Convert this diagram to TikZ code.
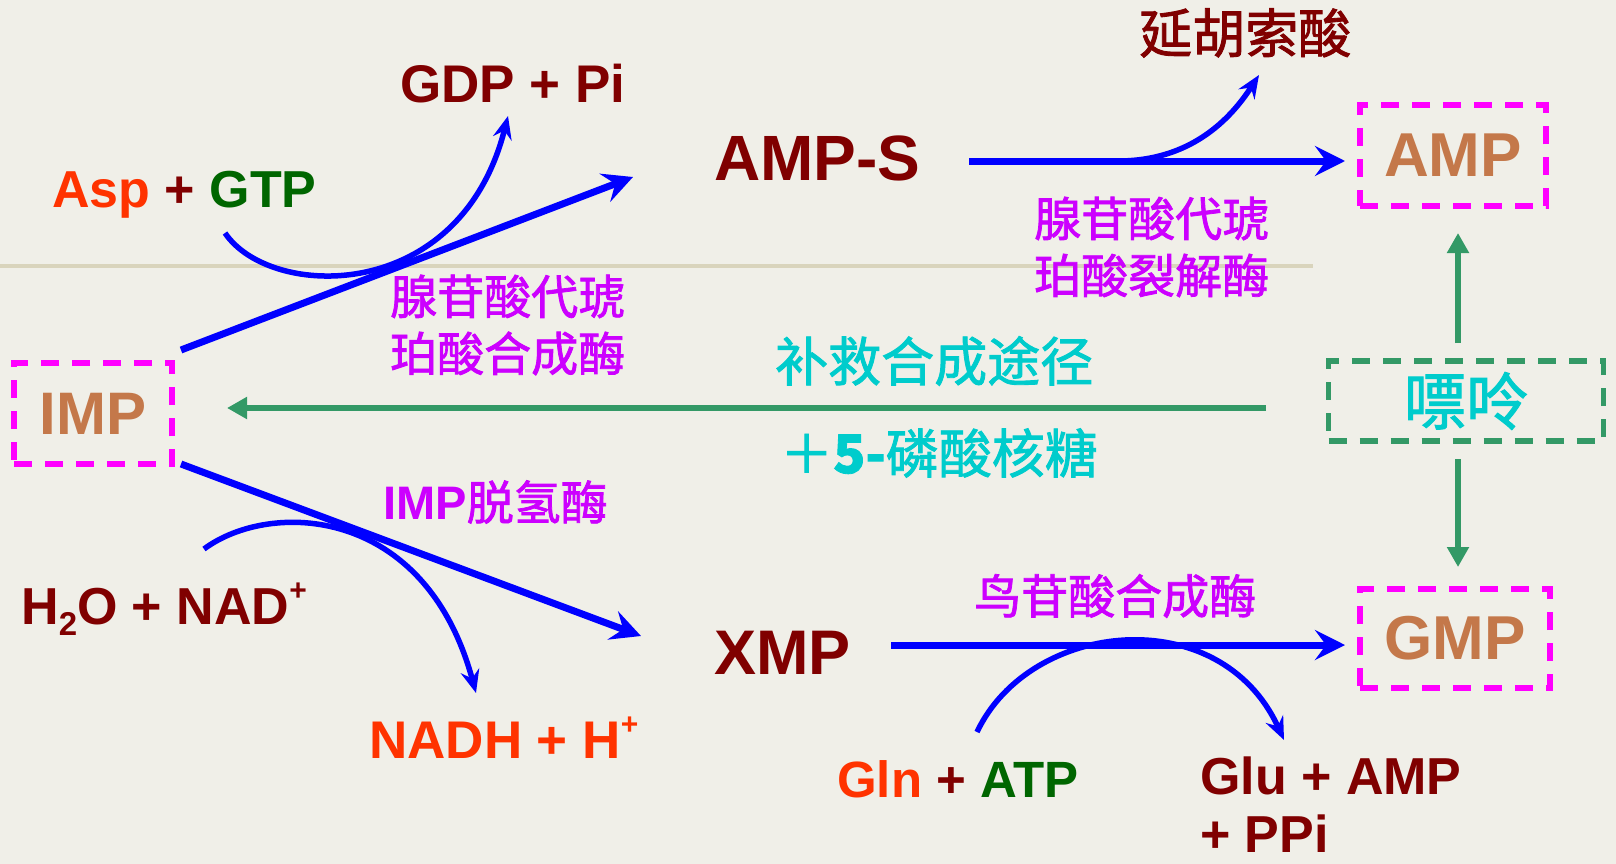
\documentclass[tikz,border=0pt]{standalone}
\usepackage{fontspec}
\setmainfont{Liberation Sans}
\newfontfamily\cjk[FakeBold=1.6]{Noto Sans CJK SC}
\usetikzlibrary{arrows.meta}
\definecolor{dred}{HTML}{800000}
\definecolor{ored}{HTML}{FF3300}
\definecolor{dgreen}{HTML}{006600}
\definecolor{arrblue}{HTML}{0000FF}
\definecolor{enz}{HTML}{CC00FF}
\definecolor{boxmag}{HTML}{FF00FF}
\definecolor{brownc}{HTML}{C4784A}
\definecolor{cyanc}{HTML}{00CCCC}
\definecolor{sgreen}{HTML}{339966}
\definecolor{bgc}{HTML}{F0EFE8}
\definecolor{tanline}{HTML}{D9D4BC}
\begin{document}
\begin{tikzpicture}[x=1pt,y=-1pt,
  lat/.style={inner sep=0pt, anchor=base west, font=\bfseries\fontsize{#1}{#1}\selectfont},
  cj/.style={inner sep=0pt, anchor=west, align=left, font=\cjk\fontsize{#1}{57}\selectfont},
  dbox/.style={draw=#1, line width=5.5pt, dash pattern=on 18pt off 13pt, inner sep=0pt},
  big/.style={font=\bfseries\fontsize{#1}{#1}\selectfont, text=brownc},
  barrow/.style={draw=arrblue, line width=7pt, -{Stealth[length=30pt,width=30pt,inset=11pt]}},
  carrow/.style={draw=arrblue, line width=5.5pt, -{Stealth[length=23pt,width=19pt,inset=8pt]}},
  garrow/.style={draw=sgreen, line width=6.5pt, -{Triangle[length=20pt,width=21pt]}}]
\useasboundingbox (0,0) rectangle (1616,864);
\fill[bgc] (0,0) rectangle (1616,864);
\draw[tanline, line width=4pt] (0,266) -- (1313,266);

% nodes
\node[lat=53, text=dred] (gdp) at (400,103) {GDP + Pi};
\node[lat=52] (asp) at (52,207) {\textcolor{ored}{Asp} \textcolor{dred}{+} \textcolor{dgreen}{GTP}};
\node[lat=64, text=dred] (amps) at (714,180) {AMP-S};
\node[cj=53, text=dred] (fum) at (1139,33) {延胡索酸};
\node[dbox=boxmag, minimum width=186pt, minimum height=101pt, big=62] (amp) at (1453,155.5) {AMP};
\node[cj=47, text=enz] (adsl) at (1034,247) {腺苷酸代琥\\珀酸裂解酶};
\node[cj=47, text=enz] (adss) at (390,325) {腺苷酸代琥\\珀酸合成酶};
\node[dbox=boxmag, minimum width=158pt, minimum height=101pt, big=60] (imp) at (93,413.5) {IMP};
\node[cj=53, text=cyanc] (salv) at (775,361) {补救合成途径};
\node[cj=53, text=cyanc] (prpp) at (780,453) {＋{\bfseries\fontsize{53}{53}\selectfont 5-}磷酸核糖};
\node[dbox=sgreen, minimum width=275pt, minimum height=80pt, font=\cjk\fontsize{62}{62}\selectfont, text=cyanc] (pur) at (1466,401) {嘌呤};
\node[dbox=boxmag, minimum width=190pt, minimum height=99pt, big=62] (gmp) at (1455,638.5) {GMP};
\node[cj=47, text=enz] (guas) at (974,596) {鸟苷酸合成酶};
\node[lat=63, text=dred] (xmp) at (714,674) {XMP};
\node[lat=51] (gln) at (837,797) {\textcolor{ored}{Gln} \textcolor{dred}{+} \textcolor{dgreen}{ATP}};
\node[inner sep=0pt, anchor=west, align=left, text=dred, font=\bfseries\fontsize{52}{58}\selectfont] (glu) at (1200,805) {Glu + AMP\\+ PPi};
\node[inner sep=0pt, anchor=west, text=enz, font=\bfseries\fontsize{47}{47}\selectfont] (impdh) at (383,502) {IMP{\cjk\mdseries 脱氢酶}};
\node[lat=52, text=dred] (h2o) at (21,624) {H\raisebox{-0.22em}{\fontsize{33}{33}\selectfont 2}O + NAD\raisebox{0.45em}{\fontsize{30}{30}\selectfont +}};
\node[lat=53, text=ored] (nadh) at (369,758) {NADH + H\raisebox{0.45em}{\fontsize{30}{30}\selectfont +}};

% coordinates for connector ends
\coordinate (imp1) at (181,350);
\coordinate (amps1) at (633,177);
\coordinate (amps2) at (969,161);
\coordinate (amp1) at (1345,161);
\coordinate (imp2) at (181,464);
\coordinate (xmp1) at (641,636);
\coordinate (xmp2) at (891,645);
\coordinate (gmp1) at (1345,645);
\coordinate (asp1) at (225,233);
\coordinate (gdp1) at (508,116);
\coordinate (fumS) at (1118,161);
\coordinate (fum1) at (1259,75);
\coordinate (h2o1) at (204,549);
\coordinate (nadh1) at (476,693);
\coordinate (gln1) at (977,732);
\coordinate (glu1) at (1284,740);
\coordinate (pur1) at (1266,408);
\coordinate (imp3) at (227,408);
\coordinate (pur2) at (1458,343);
\coordinate (amp2) at (1458,233);
\coordinate (pur3) at (1458,459);
\coordinate (gmp2) at (1458,567);

% straight blue arrows
\draw[barrow] (imp1) -- (amps1);
\draw[barrow] (amps2) -- (amp1);
\draw[barrow] (imp2) -- (xmp1);
\draw[barrow] (xmp2) -- (gmp1);

% curved side reactions
\draw[carrow] (asp1) .. controls (270,300) and (460,305) .. (gdp1);
\draw[carrow] (fumS) .. controls (1190,161) and (1230,120) .. (fum1);
\draw[carrow] (h2o1) .. controls (270,500) and (425,505) .. (nadh1);
\draw[carrow] (gln1) .. controls (1030,620) and (1220,600) .. (glu1);

% salvage arrows
\draw[garrow] (pur1) -- (imp3);
\draw[garrow] (pur2) -- (amp2);
\draw[garrow] (pur3) -- (gmp2);
\end{tikzpicture}
\end{document}
